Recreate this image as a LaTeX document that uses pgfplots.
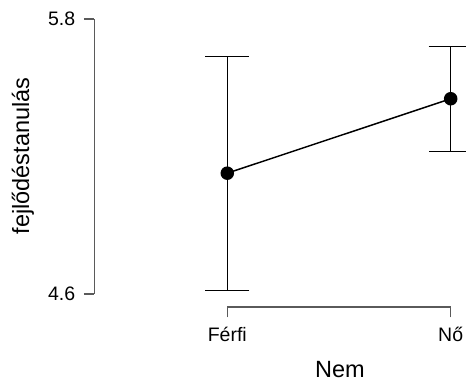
\documentclass[border=0pt]{standalone}
\usepackage{fontspec}
\setmainfont{Liberation Sans}
\usepackage{pgfplots}
\pgfplotsset{compat=1.18}
\definecolor{axgray}{HTML}{5A5A5A}
\begin{document}
\begin{tikzpicture}
\useasboundingbox (-94.3pt,-75pt) rectangle (371.7pt,307pt);
\clip (-94.3pt,-75pt) rectangle (371.7pt,307pt);
\begin{axis}[
 scale only axis, width=371.7pt, height=288pt,
 xmin=-0.5953, xmax=1.0685, ymin=4.543, ymax=5.8,
 axis lines*=left, axis line style={draw=none},
 tick align=outside,
 xtick={0,1}, xticklabels={Férfi,Nő},
 ytick={4.6,5.8}, yticklabels={4.6,5.8},
 major tick length=10.5pt,
 tick style={axgray, line width=1.2pt},
 ticklabel style={font=\fontsize{19.5}{22}\selectfont, text=black},
 xticklabel style={yshift=-6pt},
 yticklabel style={xshift=-5pt},
 label style={font=\fontsize{23.5}{27}\selectfont},
 xlabel={Nem}, ylabel={fejlődéstanulás},
 xlabel style={at={(axis description cs:0.661,-0.217)}, anchor=center},
 ylabel style={at={(axis description cs:-0.192,0.524)}, anchor=center},
 clip=false,
]
\addplot[black, line width=1.5pt, mark=*, mark size=6pt,
  error bars/.cd, y dir=both, y explicit,
  error bar style={line width=1.2pt, black},
  error mark options={rotate=90, line width=1.2pt, mark size=22pt, black}]
  table[x=x, y=y, y error=e] {
x y e
0 5.127 0.511
1 5.452 0.229
};
\draw[axgray, line width=1.2pt] (axis cs:-0.5953,4.6) -- (axis cs:-0.5953,5.8);
\draw[axgray, line width=1.2pt] (axis cs:0,4.543) -- (axis cs:1,4.543);
\end{axis}
\end{tikzpicture}
\end{document}
